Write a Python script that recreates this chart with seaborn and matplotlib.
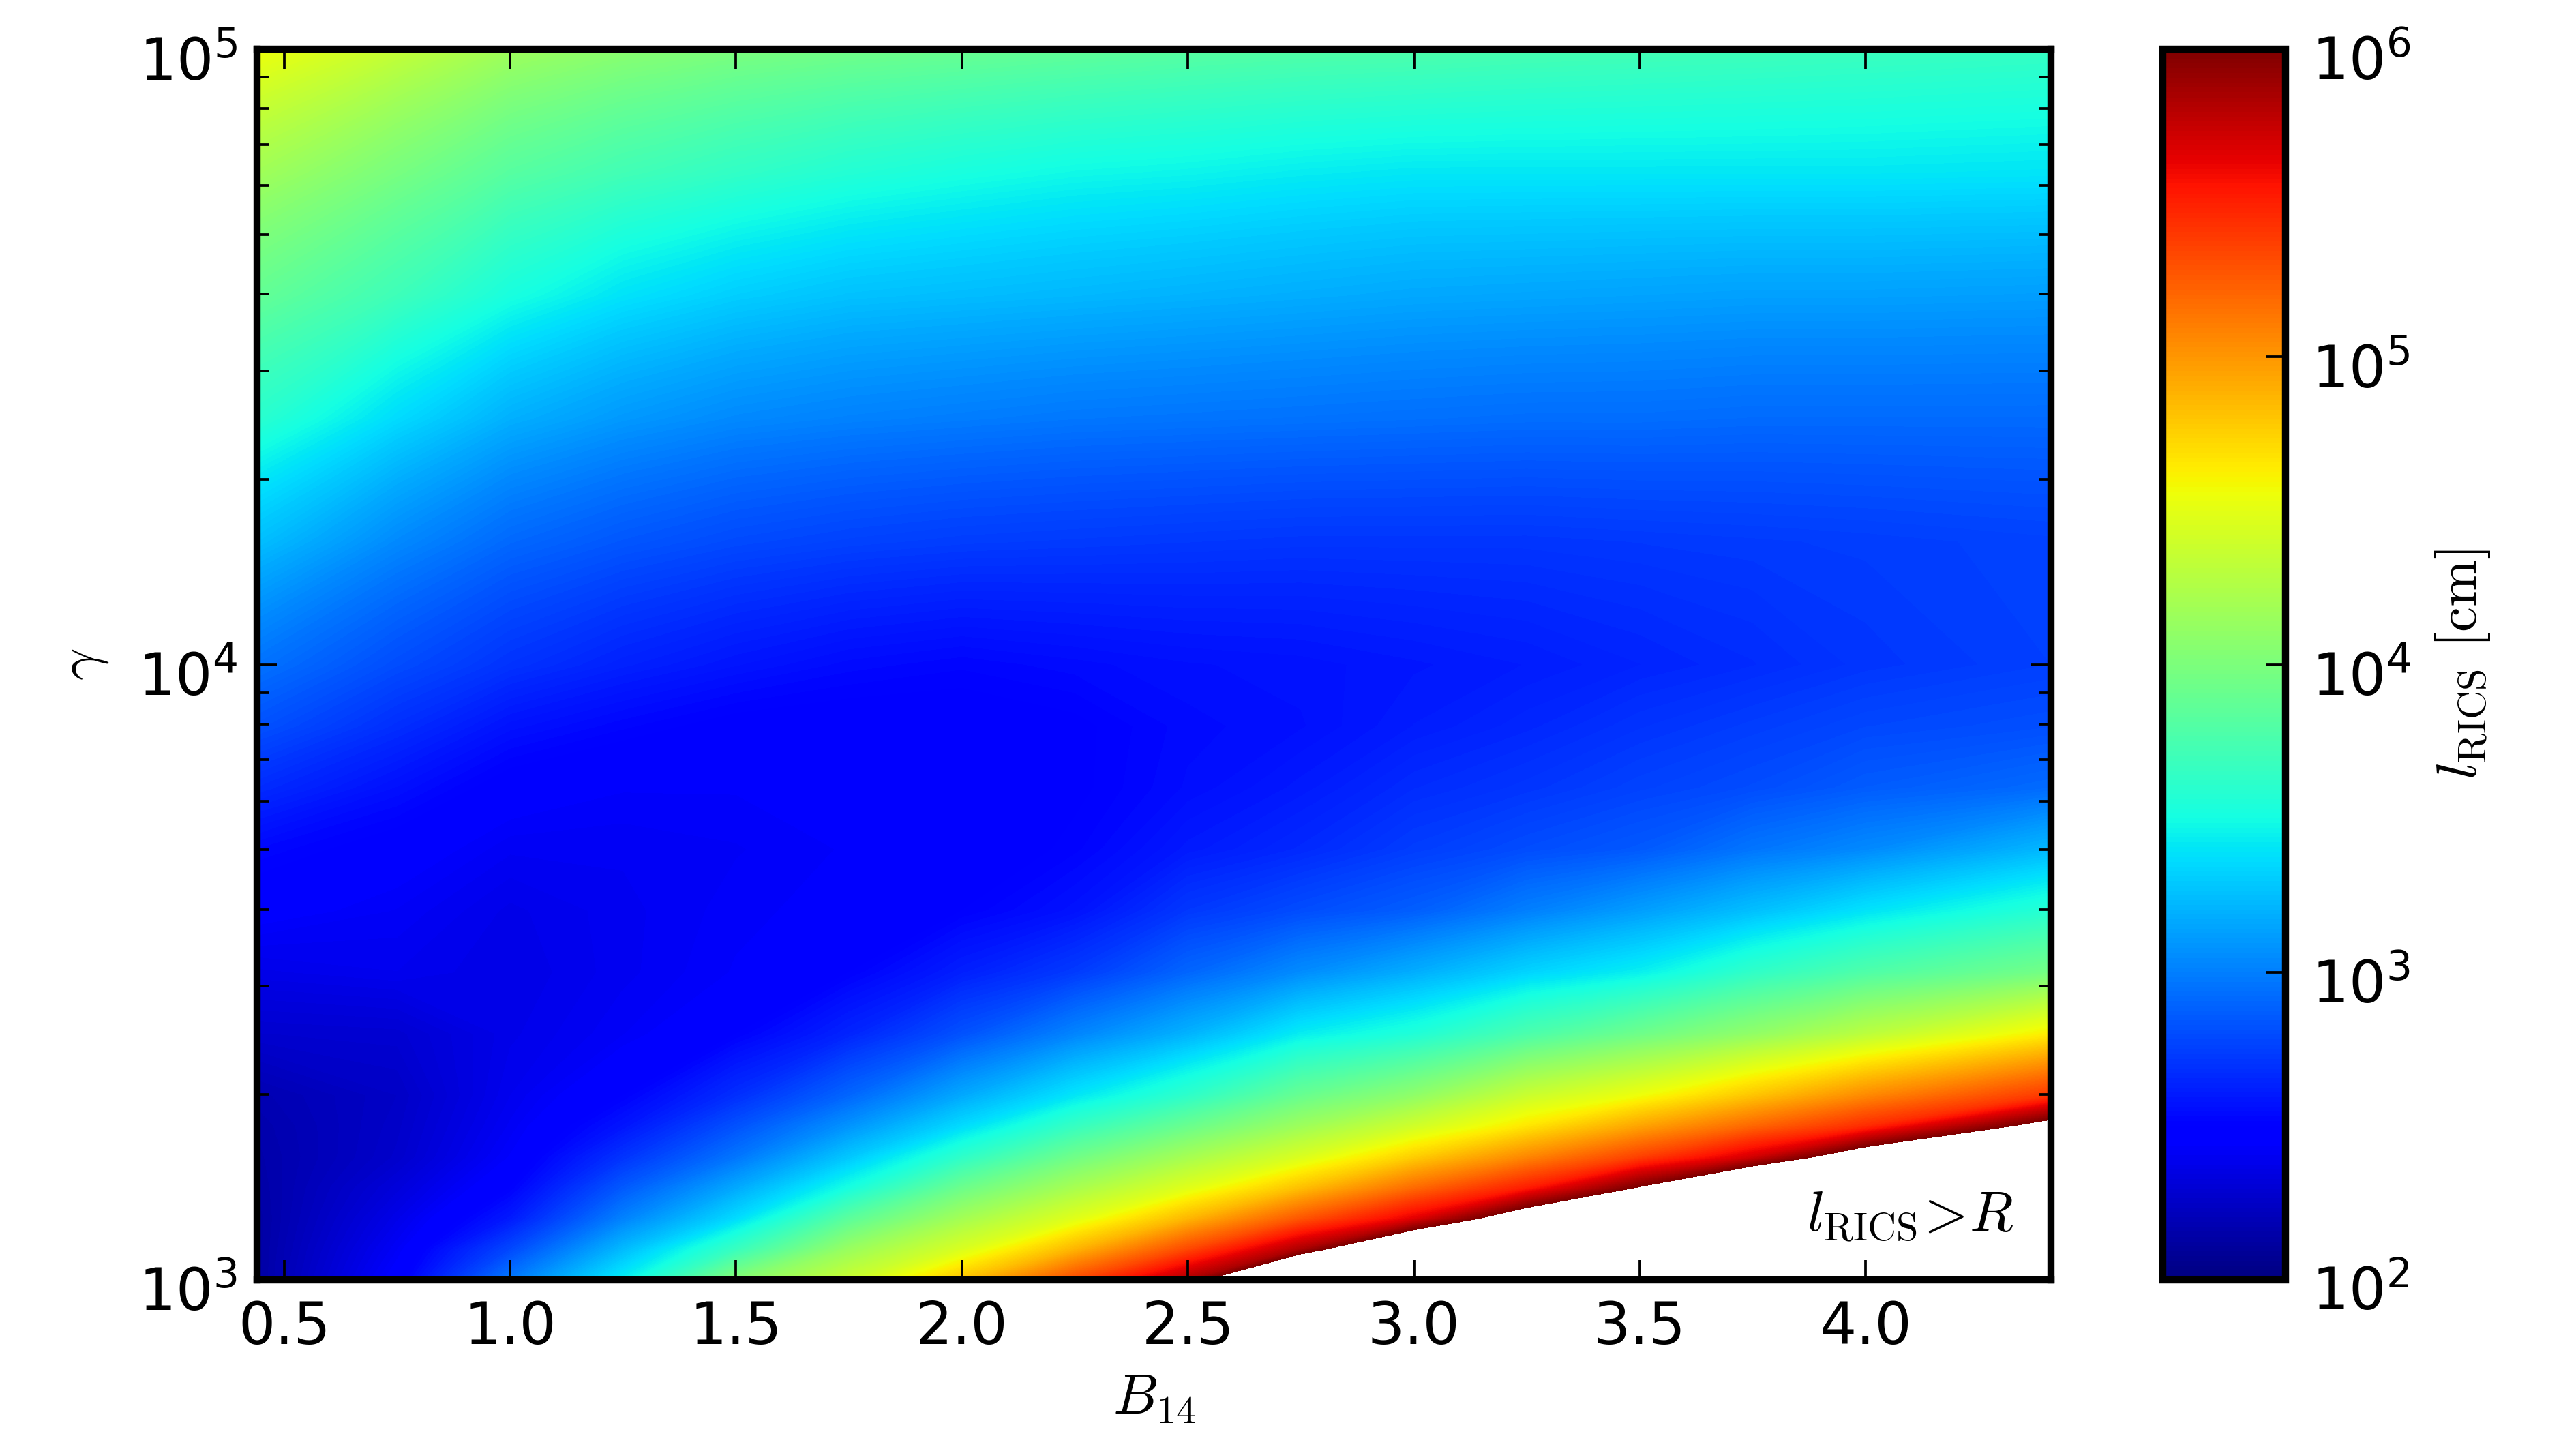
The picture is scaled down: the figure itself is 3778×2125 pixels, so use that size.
import numpy as np
import matplotlib
matplotlib.use("Agg")
import matplotlib.pyplot as plt
from matplotlib.ticker import LogLocator, NullFormatter
from matplotlib.transforms import ScaledTranslation
import seaborn as sns

B14 = [0.44, 0.75, 1.0, 1.25, 1.5, 1.75, 2.0, 2.25, 2.5, 2.75, 3.0, 3.25, 3.5, 3.75, 4.0, 4.41]
log_gamma = [3.0, 3.05, 3.1, 3.15, 3.2, 3.25, 3.3, 3.4, 3.5, 3.6, 3.7, 3.8, 3.9,
             4.0, 4.2, 4.4, 4.6, 4.8, 5.0]
log_l = [
    [2.13, 2.47, 2.98, 3.44, 4.05, 4.38, 4.82, 5.33, 5.85, 6.80, 7.60, 8.30, 9.00, 9.70, 10.3, 11.2],
    [2.13, 2.42, 2.78, 3.23, 3.67, 4.14, 4.45, 4.87, 5.33, 5.84, 6.55, 7.30, 8.00, 8.70, 9.30, 10.2],
    [2.13, 2.37, 2.60, 3.01, 3.36, 3.84, 4.19, 4.48, 4.86, 5.27, 5.65, 6.25, 7.00, 7.70, 8.30, 9.20],
    [2.14, 2.32, 2.50, 2.85, 3.16, 3.51, 3.92, 4.21, 4.48, 4.82, 5.18, 5.51, 6.02, 6.66, 7.30, 8.20],
    [2.15, 2.27, 2.44, 2.70, 2.96, 3.28, 3.62, 3.94, 4.20, 4.45, 4.76, 5.06, 5.36, 5.70, 6.25, 7.20],
    [2.16, 2.26, 2.41, 2.58, 2.82, 3.08, 3.36, 3.66, 3.91, 4.16, 4.40, 4.66, 4.94, 5.20, 5.45, 6.15],
    [2.18, 2.25, 2.39, 2.50, 2.68, 2.90, 3.16, 3.40, 3.62, 3.90, 4.09, 4.37, 4.55, 4.80, 5.05, 5.40],
    [2.28, 2.29, 2.37, 2.42, 2.50, 2.64, 2.82, 3.02, 3.20, 3.43, 3.55, 3.76, 3.93, 4.10, 4.30, 4.63],
    [2.37, 2.39, 2.36, 2.40, 2.44, 2.50, 2.62, 2.73, 2.90, 3.05, 3.18, 3.33, 3.44, 3.63, 3.78, 3.96],
    [2.46, 2.42, 2.37, 2.40, 2.43, 2.45, 2.50, 2.57, 2.72, 2.80, 2.87, 3.00, 3.12, 3.25, 3.39, 3.58],
    [2.53, 2.47, 2.41, 2.41, 2.42, 2.44, 2.46, 2.51, 2.60, 2.66, 2.74, 2.80, 2.85, 2.96, 3.04, 3.22],
    [2.67, 2.56, 2.47, 2.44, 2.44, 2.45, 2.46, 2.49, 2.55, 2.60, 2.67, 2.71, 2.76, 2.80, 2.86, 2.92],
    [2.82, 2.68, 2.57, 2.52, 2.48, 2.47, 2.47, 2.49, 2.54, 2.56, 2.61, 2.65, 2.70, 2.74, 2.78, 2.81],
    [2.95, 2.80, 2.70, 2.63, 2.58, 2.54, 2.52, 2.54, 2.56, 2.57, 2.59, 2.61, 2.64, 2.67, 2.71, 2.75],
    [3.25, 3.04, 2.91, 2.84, 2.79, 2.76, 2.74, 2.73, 2.72, 2.71, 2.71, 2.71, 2.72, 2.73, 2.74, 2.76],
    [3.60, 3.36, 3.19, 3.10, 3.04, 3.01, 2.99, 2.97, 2.96, 2.95, 2.94, 2.93, 2.93, 2.92, 2.92, 2.92],
    [3.88, 3.70, 3.52, 3.39, 3.31, 3.26, 3.24, 3.22, 3.20, 3.18, 3.16, 3.15, 3.14, 3.13, 3.13, 3.12],
    [4.18, 3.98, 3.82, 3.72, 3.64, 3.57, 3.52, 3.48, 3.46, 3.43, 3.41, 3.41, 3.41, 3.41, 3.41, 3.40],
    [4.56, 4.35, 4.17, 4.07, 4.00, 3.95, 3.91, 3.87, 3.83, 3.80, 3.78, 3.75, 3.73, 3.71, 3.69, 3.66],
]
x_ticks = [0.5, 1.0, 1.5, 2.0, 2.5, 3.0, 3.5, 4.0]
y_exponents = [3, 4, 5]
cbar_exponents = [2, 3, 4, 5, 6]

sns.set_theme(style="white", rc={
    "font.family": ["DejaVu Sans"],
    "mathtext.default": "it",
    "mathtext.fontset": "dejavusans",
    "axes.linewidth": 2.5,
    "axes.edgecolor": "black",
    "axes.axisbelow": False,
    "text.color": "black",
    "axes.labelcolor": "black",
    "xtick.color": "black",
    "ytick.color": "black",
    "xtick.bottom": True, "ytick.left": True,
})

W, H = 3779, 2125
fig = plt.figure(figsize=(W / 300, H / 300), dpi=300, facecolor="white")
ax = fig.add_axes([377 / W, 1 - 1877 / H, (3008 - 377) / W, (1877 - 72) / H])
cax = fig.add_axes([3172 / W, 1 - 1877 / H, (3352 - 3172) / W, (1877 - 72) / H])

cmap = matplotlib.colormaps["jet"]
levels = np.linspace(2, 6, 257)
gamma = 10.0 ** np.array(log_gamma)
cf = ax.contourf(np.array(B14), gamma, np.array(log_l), levels=levels, cmap=cmap, vmin=2, vmax=6)

ax.set_yscale("log")
ax.set_xlim(0.44, 4.41)
ax.set_ylim(1e3, 1e5)
ax.set_xticks(x_ticks)
ax.set_xticklabels([f"{t:.1f}" for t in x_ticks])
ax.set_yticks([10.0 ** e for e in y_exponents])
ax.set_yticklabels([rf"$\mathregular{{10^{{{e}}}}}$" for e in y_exponents])
ax.yaxis.set_minor_locator(LogLocator(base=10, subs=np.arange(2, 10), numticks=12))
ax.yaxis.set_minor_formatter(NullFormatter())
ax.tick_params(which="major", direction="in", length=7, width=0.9, labelsize=20.5,
               top=True, right=True, pad=7)
ax.tick_params(which="minor", axis="y", direction="in", length=4, width=0.9,
               left=True, right=True)
ax.set_xlabel(r"$B_{14}$", fontsize=20, math_fontfamily="cm", labelpad=5)
ax.set_ylabel(r"$\gamma$", fontsize=20, math_fontfamily="cm", labelpad=9.5)
ax.text(0.979, 0.03, r"$l_{\mathrm{RICS}}\!>\!R$", transform=ax.transAxes, ha="right", va="bottom",
        fontsize=20, math_fontfamily="cm")

cb = fig.colorbar(cf, cax=cax)
cb.set_ticks(cbar_exponents)
cb.set_ticklabels([rf"$\mathregular{{10^{{{e}}}}}$" for e in cbar_exponents])
cax.tick_params(which="major", direction="in", length=7, width=0.9, labelsize=20.5, right=True, pad=9)
cax.minorticks_off()
cb.outline.set_linewidth(2.5)
cb.set_label(r"$l_{\mathrm{RICS}}\ [\mathrm{cm}]$", fontsize=20, math_fontfamily="cm", labelpad=8)

shift = ScaledTranslation(0, -3.0 / 72, fig.dpi_scale_trans)
for lab in list(ax.get_yticklabels()) + list(cax.get_yticklabels()):
    lab.set_transform(lab.get_transform() + shift)

fig.savefig("out.png", dpi=300, facecolor="white")
